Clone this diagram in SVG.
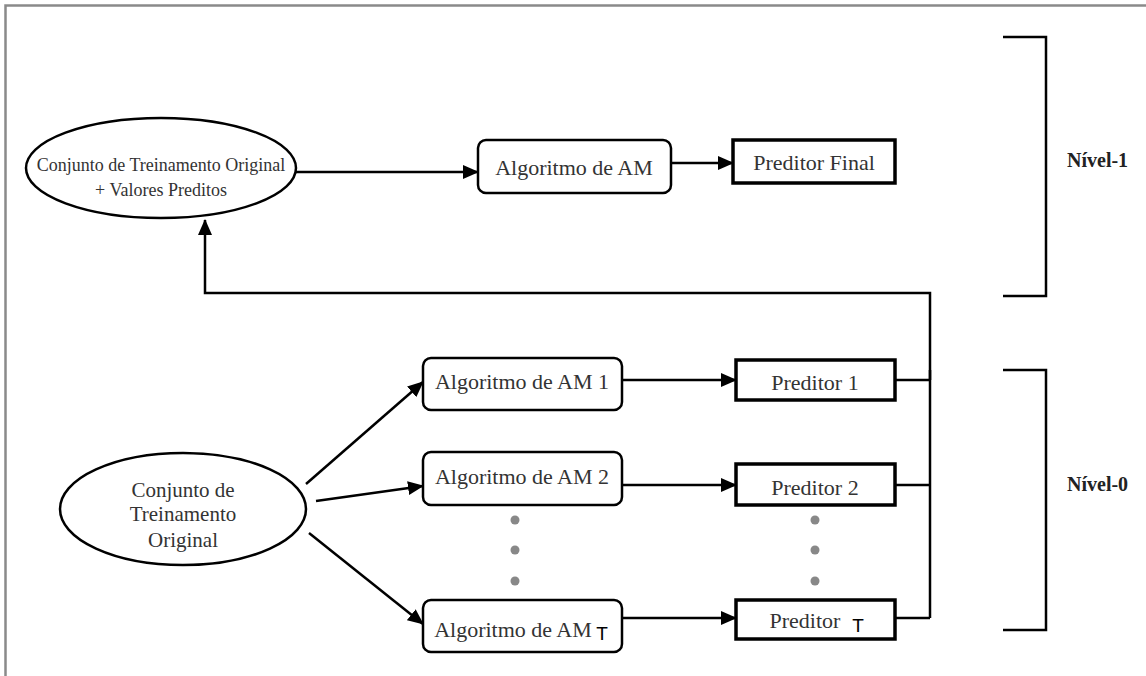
<svg xmlns="http://www.w3.org/2000/svg" width="1146" height="676" viewBox="0 0 1146 676">
<style>
text{font-family:"Liberation Serif","Times New Roman",serif;font-size:22px;fill:#333;text-anchor:middle}
.sm{font-size:18px}
.md{font-size:21px}
.lbl{font-weight:bold;font-size:20px;fill:#222;text-anchor:start}
.t{font-family:"Liberation Sans",Arial,sans-serif;font-size:19px;fill:#000}
.el{fill:#fff;stroke:#000;stroke-width:2.5}
.rb{fill:#fff;stroke:#000;stroke-width:2.5}
.pb{fill:#fff;stroke:#000;stroke-width:3.5}
.c{fill:none;stroke:#000;stroke-width:2.5}
.dot{fill:#888}
</style>
<defs>
<marker id="ah2" markerWidth="16" markerHeight="14" refX="15" refY="7" orient="auto" markerUnits="userSpaceOnUse" viewBox="0 0 16 14">
<path d="M0,0 L16,7 L0,14 z" fill="#000"/>
</marker>
</defs>
<rect width="1146" height="676" fill="#fff"/>
<path d="M5.5,676 V5.5 H1146" fill="none" stroke="#8a8a8a" stroke-width="2.5"/>

<g id="connectors">
<path class="c" d="M296,172 H478" marker-end="url(#ah2)"/>
<path class="c" d="M671,163 H733" stroke-width="3.5" marker-end="url(#ah2)"/>
<path class="c" d="M930,380 V293 H205 V220" marker-end="url(#ah2)"/>
<path class="c" d="M930,370 V618"/>
<path class="c" d="M895,380 H930"/>
<path class="c" d="M895,485 H930"/>
<path class="c" d="M895,618 H930"/>
<path class="c" d="M622,380 H736" marker-end="url(#ah2)"/>
<path class="c" d="M622,485 H736" marker-end="url(#ah2)"/>
<path class="c" d="M622,618 H736" marker-end="url(#ah2)"/>
<path class="c" d="M306,484 L423,382" marker-end="url(#ah2)"/>
<path class="c" d="M316,501 L423,486" marker-end="url(#ah2)"/>
<path class="c" d="M309,533 L423,624" marker-end="url(#ah2)"/>
</g>

<g id="node-conjunto-valores">
<ellipse class="el" cx="161" cy="168" rx="135" ry="50"/>
<text class="sm" x="161" y="171">Conjunto de Treinamento Original</text>
<text class="sm" x="161" y="196">+ Valores Preditos</text>
</g>
<g id="node-algoritmo">
<rect class="rb" x="478" y="140" width="193" height="53" rx="8"/>
<text x="574" y="175">Algoritmo de AM</text>
</g>
<g id="node-preditor-final">
<rect class="pb" x="733" y="140" width="162" height="43"/>
<text x="814" y="170">Preditor Final</text>
</g>

<g id="node-conjunto">
<ellipse class="el" cx="183" cy="509" rx="123" ry="56"/>
<text class="md" x="183" y="497">Conjunto de</text>
<text class="md" x="183" y="521">Treinamento</text>
<text class="md" x="183" y="547">Original</text>
</g>

<g id="node-am1">
<rect class="rb" x="423" y="358" width="199" height="52" rx="8"/>
<text x="522" y="389">Algoritmo de AM 1</text>
</g>
<g id="node-am2">
<rect class="rb" x="423" y="452" width="199" height="53" rx="8"/>
<text x="522" y="484">Algoritmo de AM 2</text>
</g>
<g id="node-amt">
<rect class="rb" x="423" y="600" width="199" height="52" rx="8"/>
<text x="513" y="637">Algoritmo de AM</text>
<text class="t" x="602" y="640">T</text>
</g>

<g id="node-p1">
<rect class="pb" x="736" y="360" width="159" height="40"/>
<text x="815" y="390">Preditor 1</text>
</g>
<g id="node-p2">
<rect class="pb" x="736" y="464" width="159" height="41"/>
<text x="815" y="495">Preditor 2</text>
</g>
<g id="node-pt">
<rect class="pb" x="736" y="600" width="159" height="39"/>
<text x="805" y="628">Preditor</text>
<text class="t" x="858" y="632">T</text>
</g>

<g id="dots">
<circle class="dot" cx="515" cy="520" r="4.5"/>
<circle class="dot" cx="515" cy="550" r="4.5"/>
<circle class="dot" cx="515" cy="581" r="4.5"/>
<circle class="dot" cx="815" cy="520" r="4.5"/>
<circle class="dot" cx="815" cy="550" r="4.5"/>
<circle class="dot" cx="815" cy="581" r="4.5"/>
</g>

<g id="bracket-nivel1">
<path class="c" d="M1003,37 H1046 V296 H1003" stroke-width="3"/>
<text class="lbl" x="1067" y="167">Nível-1</text>
</g>
<g id="bracket-nivel0">
<path class="c" d="M1003,370 H1046 V630 H1003" stroke-width="3"/>
<text class="lbl" x="1067" y="491">Nível-0</text>
</g>
</svg>
